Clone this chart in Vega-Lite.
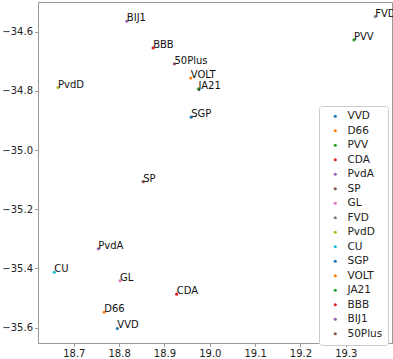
{
  "$schema": "https://vega.github.io/schema/vega-lite/v6.json",
  "autosize": {"type": "none"},
  "padding": {"left": 38, "top": 2, "right": 1, "bottom": 16},
  "width": 354,
  "height": 341,
  "config": {
    "font": "DejaVu Sans",
    "view": {"stroke": "#999", "strokeWidth": 1},
    "axis": {
      "grid": false,
      "domainColor": "#999",
      "tickColor": "#999",
      "tickSize": 3.5,
      "labelFontSize": 10,
      "labelColor": "#222",
      "labelFont": "DejaVu Sans",
      "title": null
    }
  },
  "data": {
    "values": [
      {"party": "VVD", "x": 18.796, "y": -35.603},
      {"party": "D66", "x": 18.767, "y": -35.548},
      {"party": "PVV", "x": 19.318, "y": -34.628},
      {"party": "CDA", "x": 18.927, "y": -35.487},
      {"party": "PvdA", "x": 18.754, "y": -35.334},
      {"party": "SP", "x": 18.853, "y": -35.107},
      {"party": "GL", "x": 18.802, "y": -35.442},
      {"party": "FVD", "x": 19.365, "y": -34.549},
      {"party": "PvdD", "x": 18.665, "y": -34.789},
      {"party": "CU", "x": 18.657, "y": -35.413},
      {"party": "SGP", "x": 18.959, "y": -34.889},
      {"party": "VOLT", "x": 18.958, "y": -34.757},
      {"party": "JA21", "x": 18.975, "y": -34.793},
      {"party": "BBB", "x": 18.875, "y": -34.655},
      {"party": "BIJ1", "x": 18.817, "y": -34.565},
      {"party": "50Plus", "x": 18.922, "y": -34.709}
    ]
  },
  "encoding": {
    "x": {
      "field": "x", "type": "quantitative",
      "scale": {"domain": [18.621, 19.402], "nice": false, "zero": false},
      "axis": {"values": [18.7, 18.8, 18.9, 19.0, 19.1, 19.2, 19.3], "format": ".1f"}
    },
    "y": {
      "field": "y", "type": "quantitative",
      "scale": {"domain": [-35.652, -34.5], "nice": false, "zero": false},
      "axis": {"values": [-35.6, -35.4, -35.2, -35.0, -34.8, -34.6], "format": ".1f"}
    }
  },
  "layer": [
    {
      "mark": {"type": "point", "filled": true, "opacity": 1, "size": 10},
      "encoding": {
        "color": {
          "field": "party", "type": "nominal",
          "scale": {
            "domain": ["VVD", "D66", "PVV", "CDA", "PvdA", "SP", "GL", "FVD", "PvdD", "CU", "SGP", "VOLT", "JA21", "BBB", "BIJ1", "50Plus"],
            "range": ["#1f77b4", "#ff7f0e", "#2ca02c", "#d62728", "#9467bd", "#8c564b", "#e377c2", "#7f7f7f", "#bcbd22", "#17becf", "#1f77b4", "#ff7f0e", "#2ca02c", "#d62728", "#9467bd", "#8c564b"]
          },
          "legend": {
            "orient": "none",
            "legendX": 281,
            "legendY": 104,
            "title": null,
            "padding": 5,
            "rowPadding": 3.5,
            "symbolType": "circle",
            "symbolSize": 10,
            "symbolOffset": 6,
            "labelOffset": 7,
            "labelFontSize": 10.5,
            "labelColor": "#222",
            "labelFont": "DejaVu Sans",
            "fillColor": "white",
            "strokeColor": "#ccc",
            "cornerRadius": 3
          }
        }
      }
    },
    {
      "mark": {"type": "text", "align": "left", "baseline": "alphabetic", "fontSize": 10, "color": "#111", "font": "DejaVu Sans"},
      "encoding": {"text": {"field": "party"}}
    }
  ]
}
